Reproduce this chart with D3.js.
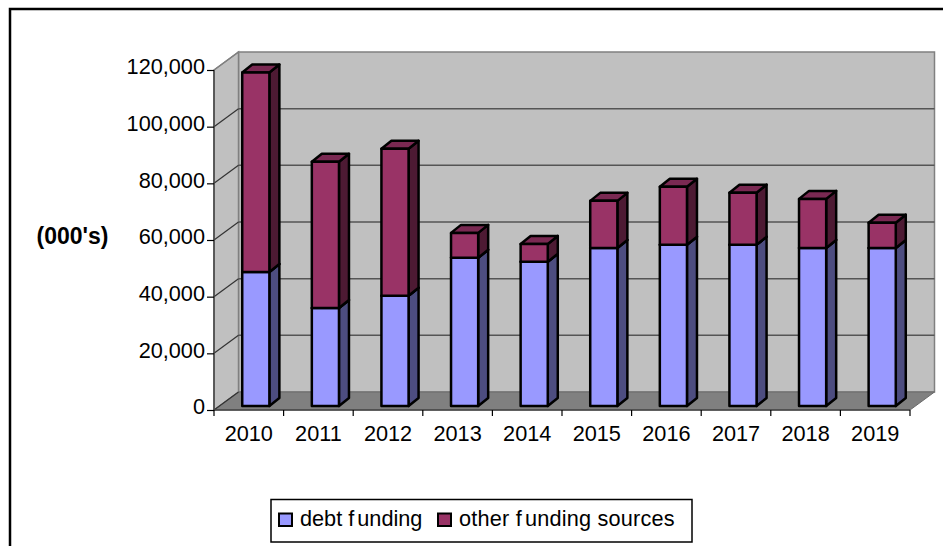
<!DOCTYPE html>
<html>
<head>
<meta charset="utf-8">
<script src="https://cdn.jsdelivr.net/npm/d3@7/dist/d3.min.js"></script>
<style>
html, body { margin: 0; padding: 0; background: #fff; overflow: hidden; }
svg { display: block; }
text { font-family: "Liberation Sans", Arial, sans-serif; fill: #000; }
</style>
</head>
<body>
<svg id="chart" width="943" height="546"></svg>
<script>
// Funding by year, in thousands
const years = ["2010","2011","2012","2013","2014","2015","2016","2017","2018","2019"];
const debtFunding = [47300,34600,38900,52300,50900,55800,56900,56900,55800,55800];
const otherFunding = [70400,51600,51900,8800,6300,16600,20500,18400,17300,8900];
const yTicks = [0,20000,40000,60000,80000,100000,120000];
const seriesNames = ["debt funding","other funding sources"];

const svg = d3.select("#chart");
const fontSize = 21.7;

// Oblique depth of the plot box and of each column
const wallDx = 24.5, wallDy = -18;
const barDx = 10, barDy = -8;
const barOffX = 7, barOffY = -4;

const x = d3.scaleBand().domain(years).range([214, 910]).paddingInner(0.61).paddingOuter(0.305);
const y = d3.scaleLinear().domain([0, 120000]).range([410, 70]);
const [x0, x1] = x.range();
const step = x.step();
const bandLeft = i => x0 + i * step;

// Outer frame, open at the bottom where the chart area is cut off
svg.append("rect").attr("x", 10).attr("y", 9).attr("width", 960).attr("height", 600)
  .attr("fill", "#fff").attr("stroke", "#000").attr("stroke-width", 2.5);

const pts = a => a.map(p => p.join(",")).join(" ");
const wallStroke = "#808080";

// Back wall
svg.append("polygon")
  .attr("points", pts([[x0+wallDx,y(120000)+wallDy],[x1+wallDx,y(120000)+wallDy],[x1+wallDx,y(0)+wallDy],[x0+wallDx,y(0)+wallDy]]))
  .attr("fill", "#c0c0c0").attr("stroke", wallStroke).attr("stroke-width", 1.5);
// Side wall
svg.append("polygon")
  .attr("points", pts([[x0,y(120000)],[x0+wallDx,y(120000)+wallDy],[x0+wallDx,y(0)+wallDy],[x0,y(0)]]))
  .attr("fill", "#c0c0c0").attr("stroke", wallStroke).attr("stroke-width", 1.5);
// Floor
svg.append("polygon")
  .attr("points", pts([[x0,y(0)],[x0+wallDx,y(0)+wallDy],[x1+wallDx,y(0)+wallDy],[x1,y(0)]]))
  .attr("fill", "#808080").attr("stroke", "#6a6a6a").attr("stroke-width", 1);

// Gridlines across the back wall and down the side wall
const inner = yTicks.filter(t => t > 0 && t < 120000);
svg.append("g").selectAll("line").data(inner).join("line")
  .attr("x1", x0+wallDx).attr("x2", x1+wallDx)
  .attr("y1", d => y(d)+wallDy).attr("y2", d => y(d)+wallDy)
  .attr("stroke", "#555").attr("stroke-width", 1.5);
svg.append("g").selectAll("line").data(yTicks).join("line")
  .attr("x1", x0).attr("x2", x0+wallDx)
  .attr("y1", d => y(d)).attr("y2", d => y(d)+wallDy)
  .attr("stroke", d => d === 120000 ? "#808080" : "#333").attr("stroke-width", 1.2);

// Columns: one box per stacked segment, lower segment first
const palette = [
  {front:"#9999ff", cap:"#7a7acc", side:"#4d4d80"},
  {front:"#993366", cap:"#7a2952", side:"#4d1a33"}
];
const stacked = years.map((yr, i) => {
  const d = debtFunding[i], o = otherFunding[i];
  return [{yr, lo:0, hi:d, c:palette[0]}, {yr, lo:d, hi:d+o, c:palette[1]}];
}).flat();

const barW = x.bandwidth();
const box = svg.append("g").selectAll("g").data(stacked).join("g")
  .attr("stroke", "#000").attr("stroke-width", 2.5).attr("stroke-linejoin", "round");

const bx = d => x(d.yr) + barOffX;
const yTop = d => y(d.hi) + barOffY;
const yBot = d => y(d.lo) + barOffY;

box.append("polygon").attr("fill", d => d.c.side)
  .attr("points", d => pts([[bx(d)+barW,yTop(d)],[bx(d)+barW+barDx,yTop(d)+barDy],[bx(d)+barW+barDx,yBot(d)+barDy],[bx(d)+barW,yBot(d)]]));
box.append("polygon").attr("fill", d => d.c.cap)
  .attr("points", d => pts([[bx(d),yTop(d)],[bx(d)+barDx,yTop(d)+barDy],[bx(d)+barW+barDx,yTop(d)+barDy],[bx(d)+barW,yTop(d)]]));
box.append("rect").attr("fill", d => d.c.front)
  .attr("x", bx).attr("width", barW).attr("y", yTop).attr("height", d => yBot(d)-yTop(d));

// Value axis
const yAxis = svg.append("g").attr("transform", `translate(${x0},0)`)
  .call(d3.axisLeft(y).tickValues(yTicks).tickFormat(d3.format(",")).tickSize(7).tickPadding(2));
yAxis.select("path").attr("stroke", "#444").attr("stroke-width", 1.5).attr("d", `M0,${y(120000)}V${y(0)}`);
yAxis.selectAll("line").attr("stroke", "#000").attr("stroke-width", 1.2);
yAxis.selectAll("text").attr("font-size", fontSize).attr("font-family", null).attr("dy", "0.17em");

// Category axis, with its ticks between the columns
const xAxis = svg.append("g").attr("transform", `translate(0,${y(0)})`)
  .call(d3.axisBottom(x).tickSize(0).tickPadding(16));
xAxis.select("path").attr("stroke", "#444").attr("stroke-width", 1.5).attr("d", `M${x0},0H${x1}`);
xAxis.selectAll("text").attr("font-size", fontSize).attr("font-family", null);
xAxis.selectAll(".tick line").remove();
xAxis.append("g").selectAll("line").data(d3.range(years.length + 1)).join("line")
  .attr("x1", bandLeft).attr("x2", bandLeft).attr("y1", 0).attr("y2", 6)
  .attr("stroke", "#000").attr("stroke-width", 1.2);

// Axis title
svg.append("text").attr("x", 72.5).attr("y", 244).attr("text-anchor", "middle")
  .attr("font-size", 23).attr("font-weight", "bold").text("(000's)");

// Legend
const legend = svg.append("g");
legend.append("rect").attr("x", 271).attr("y", 499.5).attr("width", 421).attr("height", 42.5)
  .attr("fill", "#fff").attr("stroke", "#000").attr("stroke-width", 1.5);
const legendPos = [{sx:279, tx:300}, {sx:438, tx:459}];
legend.selectAll("rect.swatch").data(seriesNames).join("rect").attr("class", "swatch")
  .attr("x", (d,i) => legendPos[i].sx).attr("y", 513.5).attr("width", 13).attr("height", 12.5)
  .attr("fill", (d,i) => palette[i].front).attr("stroke", "#000").attr("stroke-width", 2);
// The legend labels are set with a small gap after the "f"
const legendText = legend.selectAll("text").data(seriesNames).join("text")
  .attr("x", (d,i) => legendPos[i].tx).attr("y", 526).attr("font-size", fontSize)
  .attr("letter-spacing", (d,i) => i ? 0.2 : 0);
legendText.append("tspan").text(d => d.slice(0, d.indexOf("f") + 1));
legendText.append("tspan").attr("dx", 3).text(d => d.slice(d.indexOf("f") + 1));
</script>
</body>
</html>
